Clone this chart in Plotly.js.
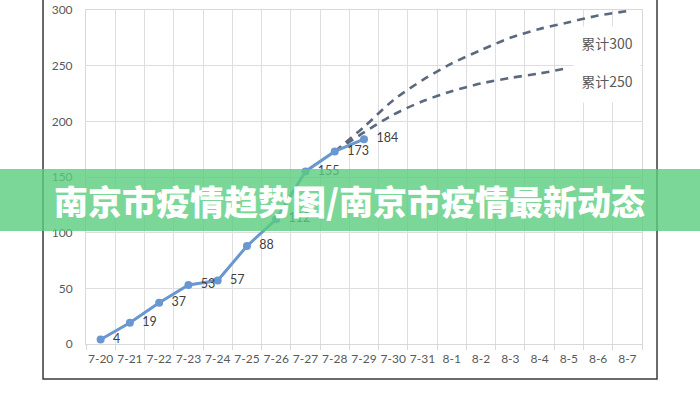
<!DOCTYPE html>
<html>
<head>
<meta charset="utf-8">
<script src="https://cdn.plot.ly/plotly-3.0.1.min.js"></script>
<style>
  html, body { margin: 0; padding: 0; background: #fff; }
  #chart { width: 700px; height: 400px; }
</style>
</head>
<body>
<div id="chart"></div>
<script>
// ---- data ----
const categories = ['7-20','7-21','7-22','7-23','7-24','7-25','7-26','7-27','7-28','7-29',
                    '7-30','7-31','8-1','8-2','8-3','8-4','8-5','8-6','8-7'];
const confirmedDates = ['7-20','7-21','7-22','7-23','7-24','7-25','7-26','7-27','7-28','7-29'];
const confirmedValues = [4, 19, 37, 53, 57, 88, 112, 155, 173, 184];
const proj300Dates = ['7-28','7-29','7-30','7-31','8-1','8-2','8-3','8-4','8-5','8-6','8-7'];
const proj300Values = [173, 195, 219, 237, 252, 264, 275, 283, 289, 295, 299];
const proj250Dates = ['7-28','7-29','7-30','7-31','8-1','8-2','8-3','8-4','8-5'];
const proj250Values = [173, 190, 206, 218, 227, 234, 239, 243, 248];
const yTicks = [0, 50, 100, 150, 200, 250, 300];
const labelTexts = ['累计300', '累计250'];
const labelValues = [270, 236];
const bannerText = '南京市疫情趋势图/南京市疫情最新动态';

const font = 'Lato, "Noto Sans CJK SC", sans-serif';

const traces = [
  {
    x: proj300Dates, y: proj300Values, type: 'scatter', mode: 'lines',
    line: { color: '#5a697e', width: 2.6, dash: '8px,6px', shape: 'spline', smoothing: 0.8 },
    hoverinfo: 'skip'
  },
  {
    x: proj250Dates, y: proj250Values, type: 'scatter', mode: 'lines',
    line: { color: '#5a697e', width: 2.6, dash: '8px,6px', shape: 'spline', smoothing: 0.8 },
    hoverinfo: 'skip'
  },
  {
    x: confirmedDates, y: confirmedValues, type: 'scatter', mode: 'lines+markers+text',
    line: { color: '#6997cf', width: 3 },
    marker: { color: '#6997cf', size: 8 },
    text: confirmedValues.map(v => '\u00a0\u00a0' + v),
    textposition: 'middle right',
    textfont: { family: font, size: 12.5, color: '#404040' },
    cliponaxis: false
  }
];

const layout = {
  width: 700, height: 400,
  margin: { l: 86, r: 58, t: 10, b: 56, pad: 0 },
  paper_bgcolor: '#ffffff', plot_bgcolor: '#ffffff',
  showlegend: false,
  font: { family: font, size: 12, color: '#595959' },
  xaxis: {
    type: 'category', categoryorder: 'array', categoryarray: categories,
    range: [-0.5, categories.length - 0.5],
    tickson: 'boundaries', ticks: 'outside', ticklen: 5, tickcolor: '#d9d9d9',
    tickangle: 0,
    showgrid: true, gridcolor: '#dedede', gridwidth: 1,
    showline: true, linecolor: '#d9d9d9', linewidth: 1, mirror: true,
    tickfont: { family: font, size: 12, color: '#595959' },
    ticklabelstandoff: 4,
    fixedrange: true
  },
  yaxis: {
    range: [0, 300], tickvals: yTicks, ticktext: yTicks.map(String),
    showgrid: true, gridcolor: '#dedede', gridwidth: 1,
    zeroline: false,
    showline: true, linecolor: '#d9d9d9', linewidth: 1, mirror: true,
    ticks: '', ticklabelstandoff: 10,
    tickfont: { family: font, size: 12, color: '#595959' },
    fixedrange: true
  },
  shapes: [
    // outer chart frame
    { type: 'rect', xref: 'paper', yref: 'paper',
      x0: -0.0773, x1: 1.027, y0: -0.1048, y1: 1.1,
      line: { color: '#3a3a3a', width: 1.5 }, fillcolor: 'rgba(0,0,0,0)', layer: 'above' },
    // green banner
    { type: 'rect', xref: 'paper', yref: 'paper',
      x0: -0.2, x1: 1.2, y0: 0.3383, y1: 0.524,
      line: { width: 0 }, fillcolor: 'rgba(90,205,125,0.8)', layer: 'above' }
  ],
  annotations: [
    { xref: 'x', yref: 'y', x: 17.3, y: labelValues[0], text: labelTexts[0], showarrow: false,
      font: { family: '"Noto Sans CJK SC", Lato, sans-serif', size: 14, color: '#595959' },
      bgcolor: '#ffffff', width: 64, height: 30, xanchor: 'center', yanchor: 'middle' },
    { xref: 'x', yref: 'y', x: 17.3, y: labelValues[1], text: labelTexts[1], showarrow: false,
      font: { family: '"Noto Sans CJK SC", Lato, sans-serif', size: 14, color: '#595959' },
      bgcolor: '#ffffff', width: 64, height: 40, xanchor: 'center', yanchor: 'middle' },
    { xref: 'paper', yref: 'paper', x: 0.4748, y: 0.431, text: bannerText, showarrow: false,
      font: { family: '"Noto Sans CJK SC", sans-serif', size: 34, color: '#ffffff', weight: 900 },
      xanchor: 'center', yanchor: 'middle' }
  ]
};

Plotly.newPlot('chart', traces, layout, { staticPlot: true, displayModeBar: false });
</script>
</body>
</html>
